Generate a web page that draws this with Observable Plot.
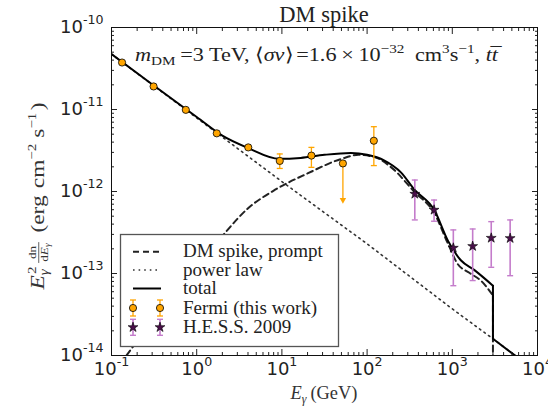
<!DOCTYPE html>
<html>
<head>
<meta charset="utf-8">
<script src="https://cdn.jsdelivr.net/npm/d3@7"></script>
<script src="https://cdn.jsdelivr.net/npm/@observablehq/plot@0.6"></script>
<style>
  html, body { margin: 0; padding: 0; background: #fff; }
  #chart { width: 548px; height: 408px; }
</style>
</head>
<body>
<div id="chart"></div>
<script>
// ---------------- data ----------------
const fermiE    = [0.133, 0.312, 0.745, 1.72, 4.03, 9.44, 22.2, 52.0, 120];
const fermiFlux = [3.74e-11, 1.91e-11, 9.9e-12, 5.12e-12, 3.45e-12, 2.36e-12, 2.74e-12, 2.20e-12, 4.16e-12];
const fermiLow  = [null, null, null, null, null, 1.91e-12, 1.97e-12, 7.7e-13, 2.07e-12];
const fermiHigh = [null, null, null, null, null, 2.87e-12, 3.45e-12, null, 6.17e-12];
const fermiUpperLimit = [false, false, false, false, false, false, false, true, false];

const hessE    = [363, 611, 1028, 1734, 2864, 4775];
const hessFlux = [9.33e-13, 5.96e-13, 2.05e-13, 2.15e-13, 2.71e-13, 2.69e-13];
const hessLow  = [4.5e-13, 4.34e-13, 7.1e-14, 8.2e-14, 1.19e-13, 9.4e-14];
const hessHigh = [1.38e-12, 7.87e-13, 3.4e-13, 3.49e-13, 4.29e-13, 4.5e-13];

const powerE    = [0.1, 1, 10, 100, 1000, 3000, 6000];
const powerFlux = [4.73e-11, 7.9e-12, 1.32e-12, 2.3e-13, 3.7e-14, 1.6e-14, 9.3e-15];

const dmE    = [0.15, 0.316, 1, 2.19, 3.98, 7.94, 20.0, 50.1, 79.4, 126, 200, 355, 617, 891, 1148, 1585, 2188, 3000, 3000];
const dmFlux = [1.0e-14, 2.8e-14, 1.12e-13, 3.2e-13, 6.2e-13, 1.02e-12, 1.66e-12, 2.5e-12, 2.8e-12, 2.6e-12, 1.9e-12, 1.0e-12, 5.4e-13, 2.3e-13, 1.32e-13, 1.02e-13, 8.1e-14, 5.4e-14, 1e-15];

const totalE    = [0.1, 0.316, 1, 2.0, 3.98, 9.33, 16.6, 31.6, 64.6, 100, 158, 251, 355, 617, 891, 1259, 1820, 3000, 3000, 5600];
const totalFlux = [4.73e-11, 1.95e-11, 8.1e-12, 4.8e-12, 3.4e-12, 2.5e-12, 2.57e-12, 2.8e-12, 2.95e-12, 2.8e-12, 2.4e-12, 1.7e-12, 1.07e-12, 5.9e-13, 2.5e-13, 1.45e-13, 1.1e-13, 7.1e-14, 1.6e-14, 9.8e-15];

const xTickValues = [0.1, 1, 10, 100, 1000, 10000];
const xTickLabels = ["10^-1", "10^0", "10^1", "10^2", "10^3", "10^4"];
const yTickValues = [1e-14, 1e-13, 1e-12, 1e-11, 1e-10];
const yTickLabels = ["10^-14", "10^-13", "10^-12", "10^-11", "10^-10"];

const titleText = "DM spike";
const legendLabels = ["DM spike, prompt", "power law", "total", "Fermi (this work)", "H.E.S.S. 2009"];

// ---------------- tables ----------------
const fermi = fermiE.map((e, i) => ({e, f: fermiFlux[i], lo: fermiLow[i], hi: fermiHigh[i], ul: fermiUpperLimit[i]}));
const fermiBars = fermi.filter(d => d.lo != null && d.hi != null && !d.ul);
const fermiUL = fermi.filter(d => d.ul);
const hess = hessE.map((e, i) => ({e, f: hessFlux[i], lo: hessLow[i], hi: hessHigh[i]}));
const power = powerE.map((e, i) => ({e, f: powerFlux[i]}));
const dm = dmE.map((e, i) => ({e, f: dmFlux[i]}));
const total = totalE.map((e, i) => ({e, f: totalFlux[i]}));
// split where the spectrum drops at the DM mass (repeated energy)
const dropIdx = totalE.findIndex((e, i) => i > 0 && e === totalE[i - 1]);
const totalSmooth = total.slice(0, dropIdx);
const totalTail = total.slice(dropIdx - 1);
const dmDrop = dmE.findIndex((e, i) => i > 0 && e === dmE[i - 1]);
const dmSmooth = dm.slice(0, dmDrop);
const dmTail = dm.slice(dmDrop - 1);

const xMinor = [];
for (let k = 0; k < xTickValues.length - 1; k++) for (let m = 2; m < 10; m++) xMinor.push(m * xTickValues[k]);
const yMinor = [];
for (let k = 0; k < yTickValues.length - 1; k++) for (let m = 2; m < 10; m++) yMinor.push(m * yTickValues[k]);

// custom symbols
const capSymbol = {draw(ctx, size) { const r = Math.sqrt(size / Math.PI); ctx.moveTo(-r, 0); ctx.lineTo(r, 0); }};
const downTri = {draw(ctx, size) { const r = Math.sqrt(size / Math.PI); ctx.moveTo(-r, -r * 0.9); ctx.lineTo(r, -r * 0.9); ctx.lineTo(0, r * 0.9); ctx.closePath(); }};

const ORANGE = "#FFA500";
const PURPLE_BAR = "#c47ccb";
const PURPLE_STAR = "#4a0f4a";
const blank = () => "";

const chart = Plot.plot({
  width: 548, height: 408,
  marginLeft: 111, marginRight: 11, marginTop: 27, marginBottom: 53,
  x: {type: "log", domain: [0.1, 1e4], label: null},
  y: {type: "log", domain: [1e-14, 1e-10], label: null},
  style: {fontFamily: "DejaVu Sans", fontSize: "18px", color: "#222", background: "white"},
  marks: [
    Plot.line(power, {x: "e", y: "f", stroke: "#333", strokeWidth: 1.6, strokeDasharray: "1.6,4", clip: true}),
    Plot.line(dmSmooth, {x: "e", y: "f", stroke: "#222", strokeWidth: 2, strokeDasharray: "6,4", curve: "monotone-x", clip: true}),
    Plot.line(dmTail, {x: "e", y: "f", stroke: "#222", strokeWidth: 2, strokeDasharray: "6,4", clip: true}),
    Plot.line(totalSmooth, {x: "e", y: "f", stroke: "black", strokeWidth: 2, curve: "monotone-x", clip: true}),
    Plot.line(totalTail, {x: "e", y: "f", stroke: "black", strokeWidth: 2, clip: true}),
    // Fermi error bars
    Plot.ruleX(fermiBars, {x: "e", y1: "lo", y2: "hi", stroke: ORANGE, strokeWidth: 1.3}),
    Plot.dot(fermiBars, {x: "e", y: "hi", symbol: capSymbol, r: 3, stroke: ORANGE, fill: "none", strokeWidth: 1.3}),
    Plot.dot(fermiBars, {x: "e", y: "lo", symbol: capSymbol, r: 3, stroke: ORANGE, fill: "none", strokeWidth: 1.3}),
    Plot.ruleX(fermiUL, {x: "e", y1: "lo", y2: "f", stroke: ORANGE, strokeWidth: 1.3}),
    Plot.dot(fermiUL, {x: "e", y: "lo", symbol: downTri, r: 3.2, fill: ORANGE, stroke: "none"}),
    // HESS error bars
    Plot.ruleX(hess, {x: "e", y1: "lo", y2: "hi", stroke: PURPLE_BAR, strokeWidth: 1.6}),
    Plot.dot(hess, {x: "e", y: "hi", symbol: capSymbol, r: 3, stroke: PURPLE_BAR, fill: "none", strokeWidth: 1.4}),
    Plot.dot(hess, {x: "e", y: "lo", symbol: capSymbol, r: 3, stroke: PURPLE_BAR, fill: "none", strokeWidth: 1.4}),
    // markers
    Plot.dot(fermi, {x: "e", y: "f", r: 3.6, fill: ORANGE, stroke: "black", strokeWidth: 0.8}),
    Plot.dot(hess, {x: "e", y: "f", symbol: "star", r: 3.1, fill: PURPLE_STAR, stroke: "black", strokeWidth: 0.6}),
    // axes: labels
    Plot.axisX(xTickValues, {anchor: "bottom", tickSize: 0, tickPadding: 7, label: null,
      tickFormat: d => xTickLabels[xTickValues.indexOf(d)], fontSize: 18, fill: "#222"}),
    Plot.axisY(yTickValues, {anchor: "left", tickSize: 0, tickPadding: 8, label: null,
      tickFormat: d => yTickLabels[yTickValues.indexOf(d)], fontSize: 18, fill: "#222"}),
    // inward ticks on all four sides
    Plot.axisX(xTickValues, {anchor: "bottom", tickSize: -6, tickFormat: blank, label: null, stroke: "#222"}),
    Plot.axisX(xMinor, {anchor: "bottom", tickSize: -3, tickFormat: blank, label: null, stroke: "#222"}),
    Plot.axisX(xTickValues, {anchor: "top", tickSize: -6, tickFormat: blank, label: null, stroke: "#222"}),
    Plot.axisX(xMinor, {anchor: "top", tickSize: -3, tickFormat: blank, label: null, stroke: "#222"}),
    Plot.axisY(yTickValues, {anchor: "left", tickSize: -6, tickFormat: blank, label: null, stroke: "#222"}),
    Plot.axisY(yMinor, {anchor: "left", tickSize: -3, tickFormat: blank, label: null, stroke: "#222"}),
    Plot.axisY(yTickValues, {anchor: "right", tickSize: -6, tickFormat: blank, label: null, stroke: "#222"}),
    Plot.axisY(yMinor, {anchor: "right", tickSize: -3, tickFormat: blank, label: null, stroke: "#222"}),
    Plot.frame({stroke: "#111", strokeWidth: 1})
  ]
});
document.getElementById("chart").append(chart);

// ---------------- superscript tick labels ----------------
const NS = "http://www.w3.org/2000/svg";
chart.querySelectorAll("text").forEach(t => {
  const m = /^10\^(-?\d+)$/.exec(t.textContent);
  if (m) {
    t.textContent = "10";
    const ts = document.createElementNS(NS, "tspan");
    ts.setAttribute("dy", "-9");
    ts.setAttribute("font-size", "12.6");
    ts.textContent = m[1];
    t.appendChild(ts);
  }
});

// ---------------- text helpers ----------------
function el(parent, tag, attrs) {
  const e = document.createElementNS(NS, tag);
  for (const k in attrs) e.setAttribute(k, attrs[k]);
  parent.appendChild(e);
  return e;
}
const SERIF = "Liberation Serif";
function mathRow(parent, pieces, size, fill) {
  const g = el(parent, "g", {"text-anchor": "start"});
  let x = 0, prevX = 0, prevW = 0;
  for (const p of pieces) {
    if (p.gap) x += p.gap;
    if (p.frac) {
      const fg = el(g, "g", {});
      const nr = mathRow(fg, p.num, p.s, fill);
      const dr = mathRow(fg, p.den, p.s, fill);
      const w = Math.max(nr.width, dr.width) + 2;
      const ax = size * 0.27;
      nr.g.setAttribute("transform", `translate(${x + (w - nr.width) / 2},${-ax - 2.5})`);
      dr.g.setAttribute("transform", `translate(${x + (w - dr.width) / 2},${-ax + 2 + p.s * 0.7})`);
      el(fg, "line", {x1: x, x2: x + w, y1: -ax, y2: -ax, stroke: fill, "stroke-width": 0.7});
      prevX = x; prevW = w; x += w;
      continue;
    }
    const s = p.s || size;
    const t = el(g, "text", {x: 0, y: -(p.b || 0), "font-family": SERIF, "font-size": s, fill, "text-anchor": "start"});
    if (p.i) t.setAttribute("font-style", "italic");
    t.textContent = p.t;
    const w = t.getComputedTextLength();
    if (p.over) { t.setAttribute("x", prevX + (prevW - w) / 2 + (p.dx || 0)); continue; }
    if (p.stack) {
      t.setAttribute("x", prevX + (p.dx || 0));
      x = Math.max(x, prevX + w);
      continue;
    }
    t.setAttribute("x", x);
    prevX = x; prevW = w; x += w;
  }
  return {g, width: x};
}
function place(pieces, size, opts) {
  const holder = el(chart, "g", {"text-anchor": "start"});
  const r = mathRow(holder, pieces, size, opts.fill || "#222");
  const sx = opts.width ? opts.width / r.width : 1;
  const w = r.width * sx;
  const x0 = opts.anchor === "middle" ? -w / 2 : 0;
  holder.setAttribute("transform", `translate(${opts.x},${opts.y})${opts.rotate ? ` rotate(${opts.rotate})` : ""} translate(${x0},0) scale(${sx},1)`);
  return holder;
}

// title
place([{t: titleText}], 22.5, {x: 324, y: 22, anchor: "middle"});
// annotation
place([
  {t: "m", i: 1}, {t: "DM", s: 13, b: -4},
  {gap: 4, t: "=3 TeV,"}, {gap: 5, t: "\u27E8"}, {t: "σv", i: 1}, {t: "\u27E9"},
  {gap: 3, t: "=1.6"}, {gap: 4, t: "×"}, {gap: 4, t: "10"}, {t: "−32", s: 13, b: 8},
  {gap: 9, t: "cm"}, {t: "3", s: 13, b: 8}, {t: "s"}, {t: "−1", s: 13, b: 8}, {t: ", "},
  {t: "t", i: 1}, {t: "t", i: 1}, {t: "\u00AF", over: 1, b: 1, dx: 1}
], 19, {x: 135, y: 61, width: 363});
// x label
place([{t: "E", i: 1}, {t: "γ", i: 1, s: 12, b: -4}, {gap: 4, t: "(GeV)"}], 18.5, {x: 324, y: 399, anchor: "middle", width: 67, fill: "#333"});
// y label
place([
  {t: "E", i: 1}, {t: "γ", i: 1, s: 12.5, b: -4}, {t: "2", s: 12.5, b: 8, stack: 1, dx: 1},
  {gap: 4, frac: 1, s: 11, num: [{t: "dn"}], den: [{t: "d"}, {t: "E", i: 1}, {t: "γ", i: 1, s: 8, b: -2}]},
  {gap: 8, t: "(erg"}, {gap: 6, t: "cm"}, {t: "−2", s: 12.5, b: 8}, {gap: 5, t: "s"}, {t: "−1", s: 12.5, b: 8}, {gap: 2, t: ")"}
], 19.5, {x: 44, y: 196, anchor: "middle", rotate: -90, width: 187, fill: "#333"});

// ---------------- legend ----------------
const lg = el(chart, "g", {"text-anchor": "start"});
el(lg, "rect", {x: 120.5, y: 234.5, width: 218, height: 112, fill: "white", stroke: "#555", "stroke-width": 1.3});
const rowsY = [251.7, 270, 288.5, 308, 327.3];
const lx1 = 133, lx2 = 161;
el(lg, "line", {x1: lx1, x2: lx2, y1: rowsY[0], y2: rowsY[0], stroke: "#222", "stroke-width": 2, "stroke-dasharray": "6,4"});
el(lg, "line", {x1: lx1, x2: lx2, y1: rowsY[1], y2: rowsY[1], stroke: "#333", "stroke-width": 1.6, "stroke-dasharray": "1.6,4"});
el(lg, "line", {x1: lx1, x2: lx2, y1: rowsY[2], y2: rowsY[2], stroke: "black", "stroke-width": 2});
const starPath = d3.symbol(d3.symbolStar, Math.PI * 3.1 * 3.1)();
for (const cx of [lx1, lx2 - 1]) {
  const fy = rowsY[3];
  el(lg, "line", {x1: cx, x2: cx, y1: fy - 8, y2: fy + 8, stroke: ORANGE, "stroke-width": 1.3});
  el(lg, "line", {x1: cx - 3, x2: cx + 3, y1: fy - 8, y2: fy - 8, stroke: ORANGE, "stroke-width": 1.3});
  el(lg, "line", {x1: cx - 3, x2: cx + 3, y1: fy + 8, y2: fy + 8, stroke: ORANGE, "stroke-width": 1.3});
  el(lg, "circle", {cx, cy: fy, r: 3.6, fill: ORANGE, stroke: "black", "stroke-width": 0.8});
  const hy = rowsY[4];
  el(lg, "line", {x1: cx, x2: cx, y1: hy - 8, y2: hy + 8, stroke: PURPLE_BAR, "stroke-width": 1.6});
  el(lg, "line", {x1: cx - 3, x2: cx + 3, y1: hy - 8, y2: hy - 8, stroke: PURPLE_BAR, "stroke-width": 1.4});
  el(lg, "line", {x1: cx - 3, x2: cx + 3, y1: hy + 8, y2: hy + 8, stroke: PURPLE_BAR, "stroke-width": 1.4});
  el(lg, "path", {d: starPath, transform: `translate(${cx},${hy})`, fill: PURPLE_STAR, stroke: "black", "stroke-width": 0.6});
}
legendLabels.forEach((s, i) => {
  const t = el(lg, "text", {x: 183, y: rowsY[i] + 5.6, "font-family": SERIF, "font-size": 19, fill: "#222", "text-anchor": "start"});
  t.textContent = s;
});
</script>
</body>
</html>
